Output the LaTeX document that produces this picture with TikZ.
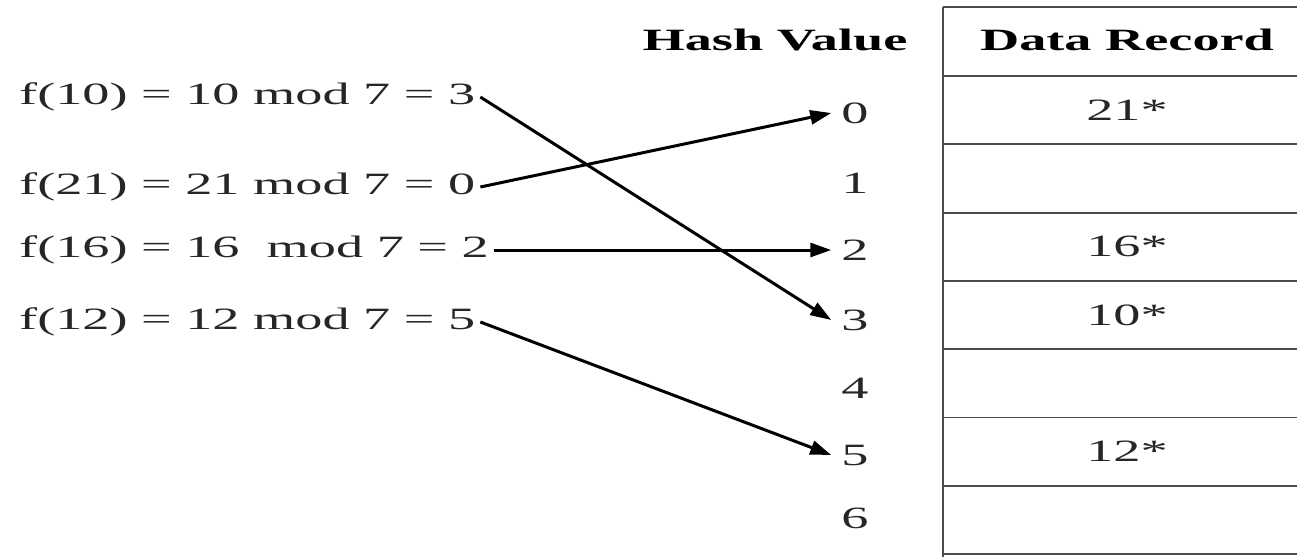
\documentclass[tikz,border=0pt]{standalone}
\usepackage{fontspec}
\setmainfont{Liberation Serif}[FakeStretch=1.75]
\usetikzlibrary{arrows.meta}

\begin{document}
\begin{tikzpicture}[>={Triangle[length=21pt, width=14pt]}, x=1pt, y=-1pt,
    every node/.style={font=\fontsize{31}{37}\selectfont, text=black!85},
    head/.style={font=\fontsize{31}{37}\selectfont\bfseries, text=black},
    func/.style={anchor=west, inner sep=5pt},
    hashval/.style={inner xsep=10pt, inner ysep=3pt},
    map/.style={->, line width=3pt},
    grid/.style={line width=1.8pt, black!70}]
    \useasboundingbox (0, 0) rectangle (1297, 557);

    % table of buckets
    \draw[grid] (943, 7) -- (943, 557);
    \foreach \y in {7, 76, 144.3, 212.6, 280.9, 349.2, 417.5, 485.8, 554.1}
        \draw[grid] (943, \y) -- (1297, \y);

    \node[head] (hashhead) at (775, 40) {Hash Value};
    \node[head] (datahead) at (1127, 40) {Data Record};

    \foreach \i/\y in {0/113, 1/183, 2/250, 3/320, 4/388, 5/455, 6/518}
        \node[hashval] (h\i) at (855, \y) {\i};

    \node (r0) at (1127, 110.2) {21*};
    \node (r2) at (1127, 246.8) {16*};
    \node (r3) at (1127, 315.1) {10*};
    \node (r5) at (1127, 451.7) {12*};

    % keys and hash function
    \node[func] (f10) at (14, 97) {f(10) = 10 mod 7 = 3};
    \node[func] (f21) at (14, 187) {f(21) = 21 mod 7 = 0};
    \node[func] (f16) at (14, 250) {f(16) = 16~ mod 7 = 2};
    \node[func] (f12) at (14, 322) {f(12) = 12 mod 7 = 5};

    \draw[map] (f10.east) -- (h3.west);
    \draw[map] (f21.east) -- (h0.west);
    \draw[map] (f16.east) -- (h2.west);
    \draw[map] (f12.east) -- (h5.west);
\end{tikzpicture}
\end{document}
